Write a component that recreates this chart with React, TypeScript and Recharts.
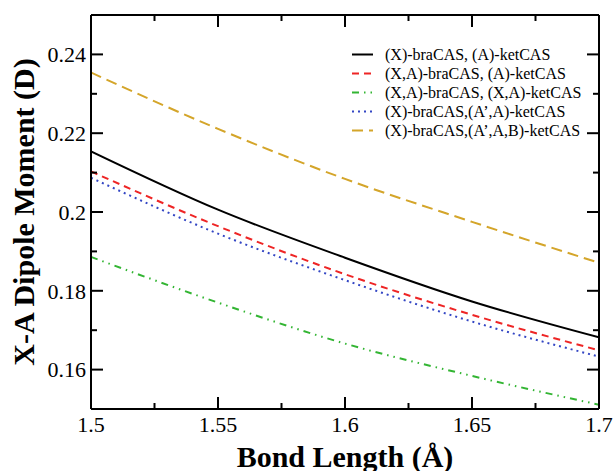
import React from 'react'
import { Legend, Line, LineChart, XAxis, YAxis } from 'recharts'

// values at every 0.05 Å
const bondLength = [1.5, 1.55, 1.6, 1.65, 1.7]
const braXketA = [0.2154, 0.2006, 0.1884, 0.1773, 0.1682]
const braXAketA = [0.2103, 0.1964, 0.1842, 0.1739, 0.1649]
const braXAketXA = [0.1886, 0.177, 0.1666, 0.1584, 0.1511]
const braXketApA = [0.2087, 0.1945, 0.1827, 0.1722, 0.1633]
const braXketApAB = [0.2354, 0.2211, 0.2084, 0.1975, 0.1871]

const xTicks = [1.5, 1.55, 1.6, 1.65, 1.7]
const xMinorTicks = [1.525, 1.575, 1.625, 1.675]
const yTicks = [0.16, 0.18, 0.2, 0.22, 0.24]
const yMinorTicks = [0.17, 0.19, 0.21, 0.23]

const FONT = '"Liberation Serif", "Times New Roman", serif'

const series = [
	{ key: 'a', name: '(X)-braCAS, (A)-ketCAS', values: braXketA, color: '#000000', dash: undefined },
	{ key: 'b', name: '(X,A)-braCAS, (A)-ketCAS', values: braXAketA, color: '#ee2525', dash: '7 5' },
	{ key: 'c', name: '(X,A)-braCAS, (X,A)-ketCAS', values: braXAketXA, color: '#33b533', dash: '7 5 1.5 5 1.5 5' },
	{ key: 'd', name: '(X)-braCAS,(A’,A)-ketCAS', values: braXketApA, color: '#3346c4', dash: '2 4' },
	{ key: 'e', name: '(X)-braCAS,(A’,A,B)-ketCAS', values: braXketApAB, color: '#d4a52a', dash: '11 6' },
]

const data = bondLength.map((x, i) => {
	const row: Record<string, number> = { x }
	series.forEach((s) => {
		row[s.key] = s.values[i]
	})
	return row
})

const isMajor = (v: number, majors: number[]) => majors.some((m) => Math.abs(m - v) < 1e-9)

const MAJOR = 12
const MINOR = 6

const LeftTick = (props: any) => {
	const { x, y, payload } = props
	const major = isMajor(payload.value, yTicks)
	return (
		<g>
			<line x1={x} y1={y} x2={x + (major ? MAJOR : MINOR)} y2={y} stroke="#000" strokeWidth={2} />
			{major && (
				<text x={x - 5} y={y} dy="0.35em" textAnchor="end" fontFamily={FONT} fontSize={22} fill="#000">
					{String(payload.value)}
				</text>
			)}
		</g>
	)
}

const RightTick = (props: any) => {
	const { x, y, payload } = props
	const major = isMajor(payload.value, yTicks)
	return <line x1={x} y1={y} x2={x - (major ? MAJOR : MINOR)} y2={y} stroke="#000" strokeWidth={2} />
}

const BottomTick = (props: any) => {
	const { x, y, payload } = props
	const major = isMajor(payload.value, xTicks)
	return (
		<g>
			<line x1={x} y1={y} x2={x} y2={y - (major ? MAJOR : MINOR)} stroke="#000" strokeWidth={2} />
			{major && (
				<text x={x} y={y + 23} textAnchor="middle" fontFamily={FONT} fontSize={22} fill="#000">
					{String(payload.value)}
				</text>
			)}
		</g>
	)
}

const TopTick = (props: any) => {
	const { x, y, payload } = props
	const major = isMajor(payload.value, xTicks)
	return <line x1={x} y1={y} x2={x} y2={y + (major ? MAJOR : MINOR)} stroke="#000" strokeWidth={2} />
}

const YTitle = (props: any) => {
	const { viewBox } = props
	const cy = viewBox.y + viewBox.height / 2
	return (
		<text
			x={34}
			y={cy}
			transform={`rotate(-90, 34, ${cy})`}
			textAnchor="middle"
			fontFamily={FONT}
			fontSize={30}
			fontWeight="bold"
			fill="#000"
		>
			X-A Dipole Moment (D)
		</text>
	)
}

const LegendBox = () => (
	<div style={{ fontFamily: FONT, fontSize: 16, color: '#000' }}>
		{series.map((s) => (
			<div key={s.key} style={{ display: 'flex', alignItems: 'center', height: 19, whiteSpace: 'nowrap' }}>
				<svg width={35} height={19} style={{ flex: 'none' }}>
					<line x1={2} x2={23} y1={9.5} y2={9.5} stroke={s.color} strokeWidth={2} strokeDasharray={s.dash} />
				</svg>
				<span>{s.name}</span>
			</div>
		))}
	</div>
)

const allX = [...xTicks, ...xMinorTicks].sort((a, b) => a - b)
const allY = [...yTicks, ...yMinorTicks].sort((a, b) => a - b)

export default function App() {
	return (
		<div style={{ position: 'absolute', left: 0, top: 0, background: '#fff' }}>
			<LineChart width={614} height={471} data={data} margin={{ top: 14, right: 14, bottom: 0, left: 0 }}>
				<XAxis
					xAxisId="bottom"
					dataKey="x"
					type="number"
					domain={[1.5, 1.7]}
					ticks={allX}
					interval={0}
					allowDataOverflow
					height={62}
					tickSize={0}
					tickMargin={0}
					tickLine={false}
					tick={<BottomTick />}
					axisLine={{ stroke: '#000', strokeWidth: 2 }}
					label={{
						value: 'Bond Length (Å)',
						position: 'insideBottom',
						offset: 4,
						style: { fontFamily: FONT, fontSize: 30, fontWeight: 'bold', fill: '#000' },
					}}
				/>
				<XAxis
					xAxisId="top"
					orientation="top"
					dataKey="x"
					type="number"
					domain={[1.5, 1.7]}
					ticks={allX}
					interval={0}
					allowDataOverflow
					height={1}
					tickSize={0}
					tickMargin={0}
					tickLine={false}
					tick={<TopTick />}
					axisLine={{ stroke: '#000', strokeWidth: 2 }}
				/>
				<YAxis
					yAxisId="left"
					type="number"
					domain={[0.15, 0.25]}
					ticks={allY}
					interval={0}
					allowDataOverflow
					width={91}
					tickSize={0}
					tickMargin={0}
					tickLine={false}
					tick={<LeftTick />}
					axisLine={{ stroke: '#000', strokeWidth: 2 }}
					label={<YTitle />}
				/>
				<YAxis
					yAxisId="right"
					orientation="right"
					type="number"
					domain={[0.15, 0.25]}
					ticks={allY}
					interval={0}
					allowDataOverflow
					width={1}
					tickSize={0}
					tickMargin={0}
					tickLine={false}
					tick={<RightTick />}
					axisLine={{ stroke: '#000', strokeWidth: 2 }}
				/>
				{series.map((s) => (
					<Line
						key={s.key}
						xAxisId="bottom"
						yAxisId="left"
						type="monotone"
						dataKey={s.key}
						name={s.name}
						stroke={s.color}
						strokeWidth={2}
						strokeDasharray={s.dash}
						dot={false}
						activeDot={false}
						isAnimationActive={false}
					/>
				))}
				<Legend
					layout="vertical"
					align="center"
					verticalAlign="middle"
					content={<LegendBox />}
					wrapperStyle={{ position: 'absolute', top: 45, left: 350, width: 'auto', height: 'auto' }}
				/>
			</LineChart>
		</div>
	)
}
